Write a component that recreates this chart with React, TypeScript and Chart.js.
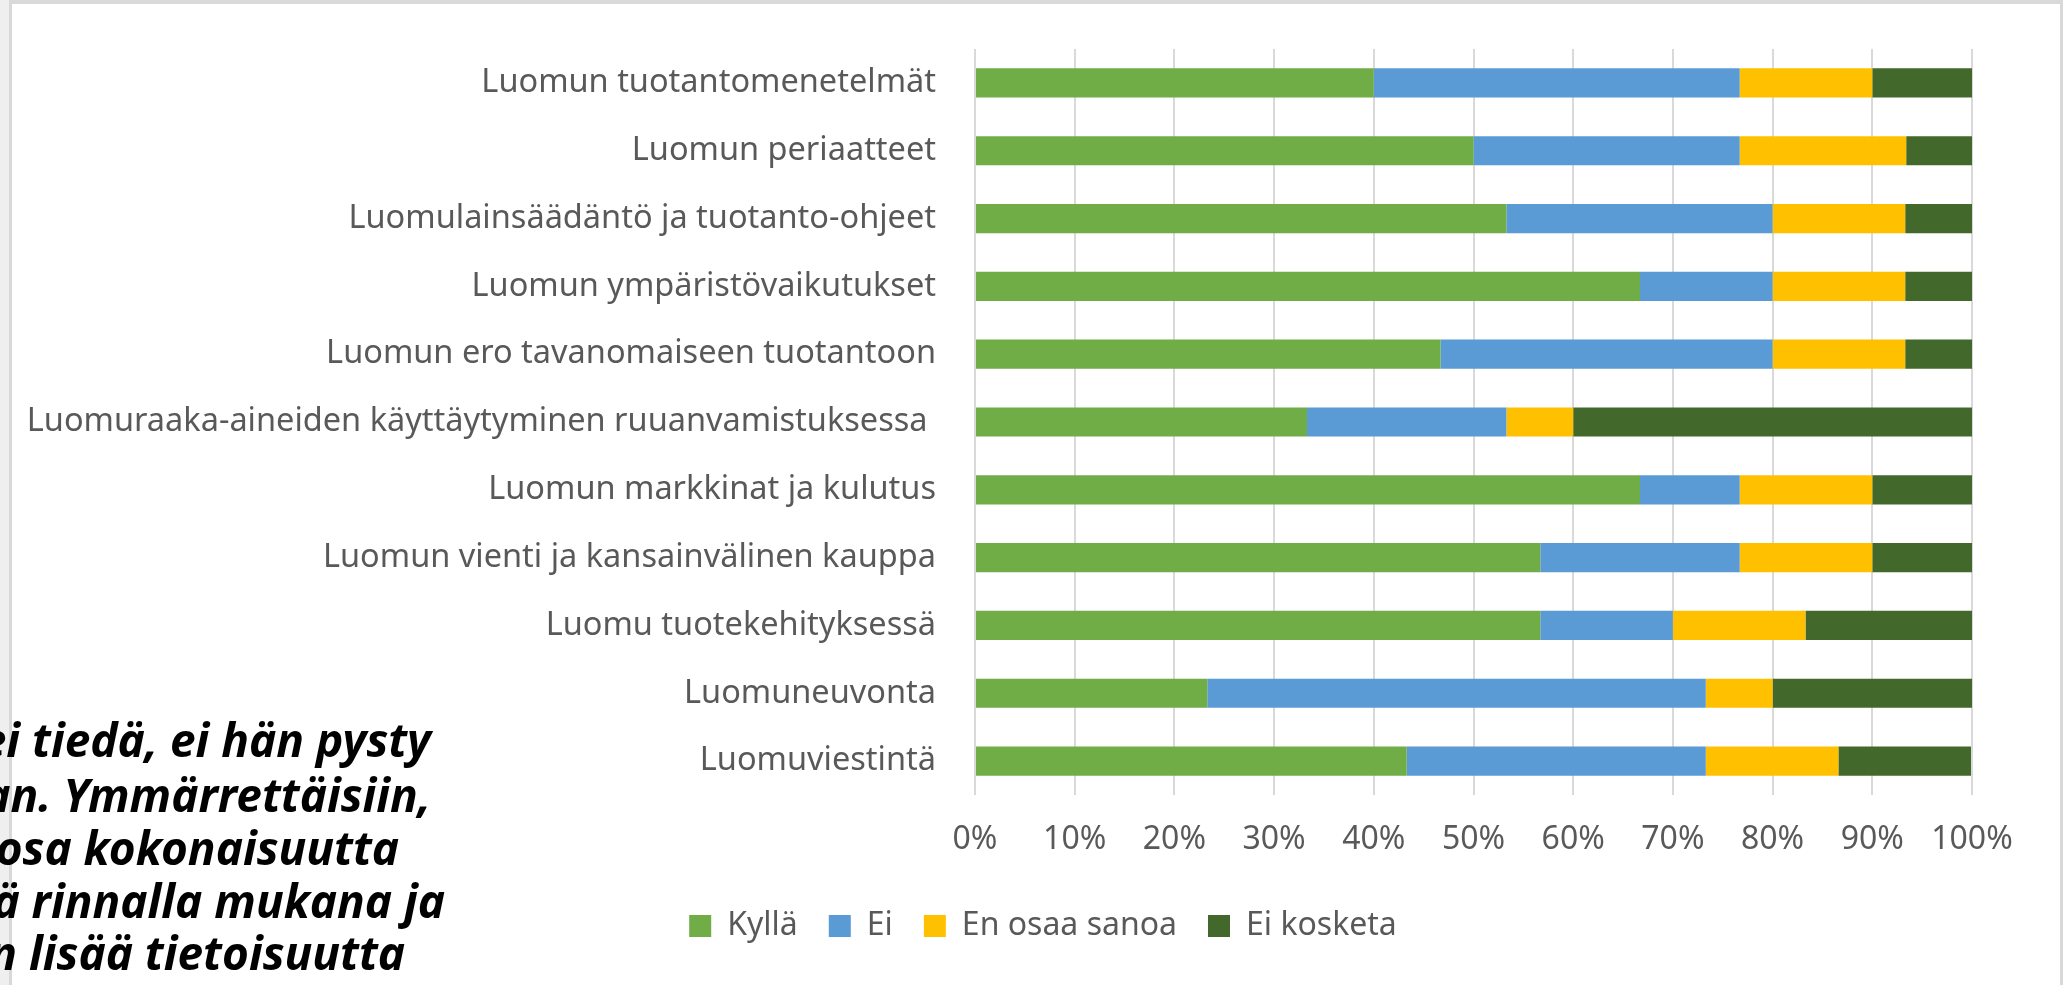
import React, { useEffect, useRef } from 'react';
import { Chart, registerables } from 'chart.js';

Chart.register(...registerables);

const CATEGORIES = [
  'Luomun tuotantomenetelmät',
  'Luomun periaatteet',
  'Luomulainsäädäntö ja tuotanto-ohjeet',
  'Luomun ympäristövaikutukset',
  'Luomun ero tavanomaiseen tuotantoon',
  'Luomuraaka-aineiden käyttäytyminen ruuanvamistuksessa ',
  'Luomun markkinat ja kulutus',
  'Luomun vienti ja kansainvälinen kauppa',
  'Luomu tuotekehityksessä',
  'Luomuneuvonta',
  'Luomuviestintä',
];

const KYLLA = [40.0, 50.0, 53.3, 66.7, 46.7, 33.3, 66.7, 56.7, 56.7, 23.3, 43.3];
const EI = [36.7, 26.7, 26.7, 13.3, 33.3, 20.0, 10.0, 20.0, 13.3, 50.0, 30.0];
const EN_OSAA_SANOA = [13.3, 16.7, 13.3, 13.3, 13.3, 6.7, 13.3, 13.3, 13.3, 6.7, 13.3];
const EI_KOSKETA = [10.0, 6.7, 6.7, 6.7, 6.7, 40.0, 10.0, 10.0, 16.7, 20.0, 13.3];

const SERIES_NAMES = ['Kyllä', 'Ei', 'En osaa sanoa', 'Ei kosketa'];
const SERIES_VALUES = [KYLLA, EI, EN_OSAA_SANOA, EI_KOSKETA];
const SERIES_COLORS = ['#70ad47', '#5b9bd5', '#ffc000', '#43682b'];

const X_MIN = 0;
const X_MAX = 100;
const X_STEP = 10;

const OVERLAY_LINES = [
  'ei tiedä, ei hän pysty',
  'an. Ymmärrettäisiin,',
  'osa kokonaisuutta',
  'ä rinnalla mukana ja',
  'n lisää tietoisuutta',
];
const OVERLAY_ENDS = [431, 431, 399, 445, 405];
const OVERLAY_BASELINES = [757, 812, 865, 918, 970];

const FONT = '"Noto Sans", "Open Sans", sans-serif';
const TEXT_COLOR = '#595959';

const legendShift = {
  id: 'legendShift',
  afterLayout(chart: any) {
    if (chart.legend) {
      chart.legend.left += 57;
      chart.legend.right += 57;
    }
  },
};

export default function App() {
  const ref = useRef<HTMLCanvasElement>(null);

  useEffect(() => {
    document.body.style.margin = '0';
    document.body.style.overflow = 'hidden';
    const canvas = ref.current;
    if (!canvas) return;
    const chart = new Chart(canvas, {
      type: 'bar',
      data: {
        labels: CATEGORIES,
        datasets: SERIES_NAMES.map((name, i) => ({
          label: name,
          data: SERIES_VALUES[i],
          backgroundColor: SERIES_COLORS[i],
          borderWidth: 0,
          barPercentage: 0.43,
          categoryPercentage: 1,
        })),
      },
      options: {
        indexAxis: 'y',
        responsive: false,
        animation: false,
        devicePixelRatio: 1,
        layout: { padding: { top: 49, left: 0, right: 91, bottom: 33 } },
        scales: {
          x: {
            stacked: true,
            min: X_MIN,
            max: X_MAX,
            ticks: {
              stepSize: X_STEP,
              callback: (v: any) => v + '%',
              padding: 26,
              color: TEXT_COLOR,
              font: { size: 32, family: FONT },
              autoSkip: false,
              maxRotation: 0,
            },
            grid: { color: '#d9d9d9', lineWidth: 2, drawTicks: false },
            border: { display: false },
            afterFit: (s: any) => {
              s.height = 84;
            },
          },
          y: {
            stacked: true,
            grid: { display: false },
            border: { display: false },
            ticks: {
              padding: 31,
              color: TEXT_COLOR,
              font: { size: 32.5, family: FONT },
              autoSkip: false,
            },
            afterFit: (s: any) => {
              s.width = 975;
              s.paddingTop = 0;
              s.paddingBottom = 0;
            },
          },
        },
        plugins: {
          legend: {
            position: 'bottom',
            labels: {
              boxWidth: 22,
              boxHeight: 22,
              padding: 31,
              color: TEXT_COLOR,
              font: { size: 32, family: FONT },
            },
          },
          tooltip: { enabled: false },
        },
      },
      plugins: [legendShift],
    });
    return () => chart.destroy();
  }, []);

  return (
    <div
      style={{
        position: 'relative',
        width: 2063,
        height: 985,
        overflow: 'hidden',
        background: '#efefef',
      }}
    >
      <div
        style={{
          position: 'absolute',
          left: 9,
          top: 0,
          width: 2048,
          height: 1200,
          background: '#ffffff',
          borderLeft: '3px solid #d9d9d9',
          borderTop: '4px solid #d9d9d9',
          borderRight: '3px solid #d9d9d9',
        }}
      />
      <canvas
        ref={ref}
        width={2063}
        height={985}
        style={{ position: 'absolute', left: 0, top: 0, width: 2063, height: 985 }}
      />
      {OVERLAY_LINES.map((line, i) => (
        <div
          key={i}
          style={{
            position: 'absolute',
            right: 2063 - OVERLAY_ENDS[i],
            top: OVERLAY_BASELINES[i] - 44.5,
            lineHeight: '53.25px',
            whiteSpace: 'nowrap',
            fontFamily: FONT,
            fontStyle: 'italic',
            fontWeight: 700,
            fontSize: 46,
            color: '#000000',
          }}
        >
          {line}
        </div>
      ))}
    </div>
  );
}
